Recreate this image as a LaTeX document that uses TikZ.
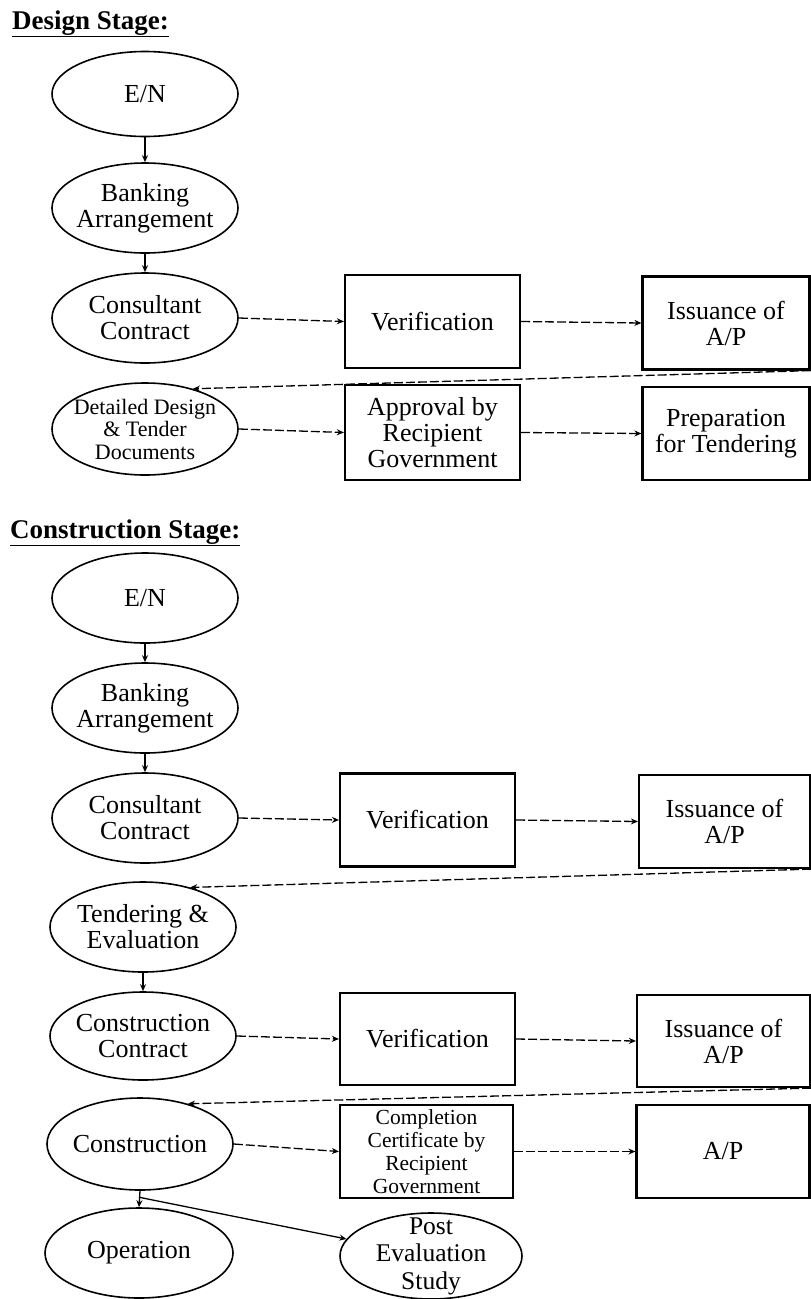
\documentclass[tikz,border=0pt]{standalone}
\usepackage{fontspec}
\setmainfont{Liberation Serif}
\usetikzlibrary{arrows.meta,calc,shapes.geometric}
\begin{document}
\begin{tikzpicture}[x=1pt,y=-1pt,
  ell/.style={ellipse,draw,line width=1.6pt,inner sep=-12pt,minimum width=186pt,minimum height=90pt,align=center,font=\fontsize{26}{26}\selectfont},
  box/.style={rectangle,draw,line width=2.2pt,inner sep=0pt,minimum width=175pt,minimum height=93pt,align=center,font=\fontsize{26}{26}\selectfont},
  title/.style={anchor=base west,inner sep=0pt,font=\fontsize{27}{27}\selectfont\bfseries},
  flow/.style={line width=1.3pt,-{Stealth[length=7pt,width=6pt]}},
  link/.style={flow,dash pattern=on 9pt off 3pt},
]
\useasboundingbox (0,0) rectangle (811,1299);
% Design stage
\node[title] (t1) at (12,29) {\underline{Design Stage:}};
\node[ell,minimum height=85pt] (en1) at (145,94) {E/N};
\node[ell] (ba1) at (145,208) {Banking\\Arrangement};
\node[ell] (cc1) at (145,318) {Consultant\\Contract};
\node[ell,minimum height=92pt,font=\fontsize{22}{22.5}\selectfont] (dd1) at (145,429) {Detailed Design\\\& Tender\\Documents};
\node[box] (v1) at (432.5,321.5) {Verification};
\node[box,minimum width=167pt] (i1) at (726,323) {Issuance of\\A/P};
\node[box,minimum height=95pt] (ap1) at (432.5,432.5) {Approval by\\Recipient\\Government};
\node[box,minimum width=167pt] (pt1) at (726,433.5) {Preparation\\for Tendering};
\draw[flow] (en1) -- (ba1);
\draw[flow] (ba1) -- (cc1);
\draw[link] (cc1.east) -- (v1.west);
\draw[link] (v1.east) -- (i1.west);
\draw[link] (i1.south east) -- (dd1.40);
\draw[link] (dd1.east) -- (ap1.west);
\draw[link] (ap1.east) -- (pt1.west);
% Construction stage
\node[title] (t2) at (10,538) {\underline{Construction Stage:}};
\node[ell] (en2) at (145,598) {E/N};
\node[ell] (ba2) at (145,708) {Banking\\Arrangement};
\node[ell] (cc2) at (145,818) {Consultant\\Contract};
\node[box] (v2) at (427.5,820) {Verification};
\node[box,minimum width=171pt] (i2) at (724.5,821.5) {Issuance of\\A/P};
\node[ell] (te) at (143,927) {Tendering \&\\Evaluation};
\node[ell,minimum height=88pt] (co) at (143,1036) {Construction\\Contract};
\node[box,minimum height=92pt] (v3) at (427.5,1039) {Verification};
\node[box,minimum width=173pt,minimum height=92pt] (i3) at (723.5,1041) {Issuance of\\A/P};
\node[ell,minimum height=92pt] (cn) at (140,1144) {Construction};
\node[box,minimum width=173pt,font=\fontsize{21.5}{23}\selectfont] (cr) at (426.5,1151.5) {Completion\\Certificate by\\Recipient\\Government};
\node[box,minimum width=173pt] (ap2) at (723,1151.5) {A/P};
\node[ell,minimum width=188pt] (op) at (139,1253) {Operation};
\node[ell,minimum width=182pt,minimum height=86pt,font=\fontsize{25.5}{27.5}\selectfont] (pe) at (431,1256) {Post\\Evaluation\\Study};
\draw[flow] (en2) -- (ba2);
\draw[flow] (ba2) -- (cc2);
\draw[link] (cc2.east) -- (v2.west);
\draw[link] (v2.east) -- (i2.west);
\draw[link] (i2.south east) -- (te.40);
\draw[flow] (te) -- (co);
\draw[link] (co.east) -- (v3.west);
\draw[link] (v3.east) -- (i3.west);
\draw[link] (i3.south east) -- (cn.40);
\draw[link] (cn.east) -- (cr.west);
\draw[link] (cr.east) -- (ap2.west);
\draw[flow] (cn.south) -- (op.north);
\coordinate (br) at ($(cn.south)!0.4!(op.north)$);
\draw[flow] (br) -- (pe);
\end{tikzpicture}
\end{document}
